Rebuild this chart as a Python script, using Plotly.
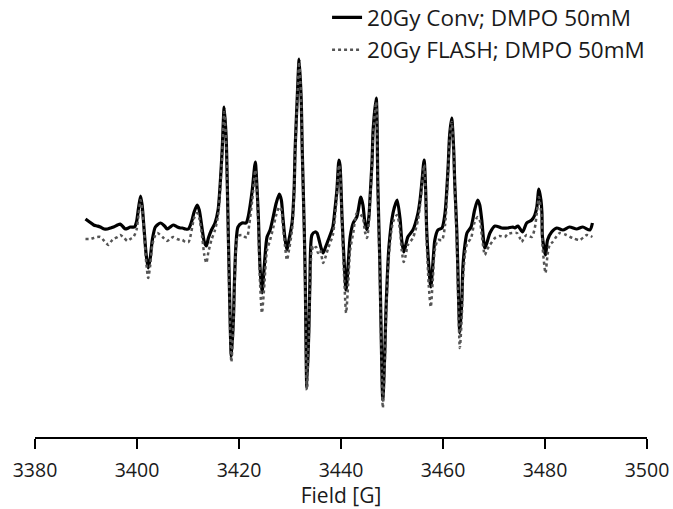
import plotly.graph_objects as go

# EPR spectra (field in G, signal in arbitrary units)
conv_field = [3389.9, 3390.7, 3391.5, 3392.2, 3392.8, 3393.6, 3394.2, 3394.8, 3395.4, 3396.2,
              3396.7, 3397.3, 3397.7, 3398.3, 3398.7, 3399.5, 3399.9, 3400.3, 3400.7, 3401.0,
              3401.4, 3401.8, 3402.2, 3402.6, 3403.0, 3403.6, 3404.6, 3405.4, 3405.9, 3406.5,
              3407.1, 3407.9, 3408.5, 3408.9, 3409.5, 3410.1, 3410.4, 3410.8, 3411.2, 3411.8,
              3412.2, 3412.8, 3413.2, 3413.6, 3414.0, 3414.6, 3415.3, 3415.9, 3416.3, 3416.7,
              3417.1, 3417.5, 3417.7, 3418.1, 3418.5, 3418.9, 3419.1, 3419.4, 3419.8, 3420.6,
              3421.4, 3421.8, 3422.2, 3422.6, 3423.2, 3423.4, 3423.8, 3424.1, 3424.5, 3424.9,
              3425.5, 3426.1, 3426.7, 3427.3, 3427.9, 3428.3, 3428.6, 3429.0, 3429.4, 3429.8,
              3430.4, 3430.8, 3431.0, 3431.4, 3431.8, 3432.2, 3432.4, 3432.8, 3433.0, 3433.3,
              3433.7, 3433.9, 3434.3, 3434.9, 3435.3, 3435.7, 3436.1, 3436.5, 3436.9, 3437.5,
              3438.4, 3438.8, 3439.2, 3439.6, 3439.8, 3440.2, 3440.6, 3441.0, 3441.4, 3441.8,
              3442.4, 3443.1, 3443.9, 3444.3, 3444.7, 3445.1, 3445.5, 3445.7, 3446.1, 3446.3,
              3446.9, 3447.1, 3447.2, 3447.6, 3447.8, 3448.2, 3448.6, 3448.8, 3449.4, 3450.2,
              3451.0, 3451.6, 3451.9, 3452.3, 3452.7, 3453.1, 3454.1, 3455.1, 3455.5, 3455.9,
              3456.3, 3456.6, 3456.8, 3457.2, 3457.6, 3458.0, 3458.4, 3459.0, 3459.8, 3460.4,
              3461.0, 3461.3, 3461.7, 3462.1, 3462.3, 3462.7, 3462.9, 3463.3, 3463.7, 3463.9,
              3464.3, 3464.7, 3465.5, 3466.2, 3466.8, 3467.2, 3467.6, 3468.2, 3468.6, 3469.2,
              3470.2, 3471.5, 3472.7, 3473.7, 3474.1, 3474.7, 3475.6, 3476.4, 3477.4, 3478.0,
              3478.4, 3478.8, 3479.2, 3479.4, 3479.5, 3480.1, 3480.5, 3481.3, 3482.3, 3483.5,
              3484.8, 3486.2, 3487.4, 3488.8, 3489.3]
conv_signal = [9, 6, 3, 2, 1, -1, -1, 0, 1, 3,
               4, 1, -1, 0, 1, 1, 6, 20, 32, 23,
               -2, -27, -40, -30, -12, 1, 5, 2, -1, 1,
               3, 1, 0, 0, -1, -1, 2, 8, 16, 23,
               18, -2, -14, -18, -10, -2, 5, 18, 43, 78,
               121, 88, 45, -55, -129, -92, -55, -17, 1, 5,
               5, 11, 23, 38, 66, 53, 11, -37, -65, -42,
               -9, -2, 11, 25, 34, 28, 11, -10, -22, -12,
               5, 38, 78, 128, 169, 128, 78, -2, -55, -159,
               -102, -55, -7, -4, -5, -12, -20, -25, -20, -12,
               1, 18, 38, 68, 63, 11, -32, -62, -37, -9,
               5, 11, 31, 23, 5, -2, 13, 31, 68, 98,
               130, 98, 48, -32, -85, -172, -122, -85, -19, 15,
               28, 8, -12, -24, -17, -9, -2, 15, 28, 48,
               68, 38, -2, -37, -59, -37, -12, -2, 0, 15,
               61, 93, 110, 78, 45, -2, -39, -105, -72, -39,
               -17, -5, 1, 18, 28, 23, 8, -20, -15, -5,
               2, 0, 0, 1, 0, 2, -4, 5, 8, 13,
               21, 39, 28, 15, -9, -27, -12, -4, 0, -2,
               1, -1, 1, -2, 5]

flash_field = [3389.9, 3390.7, 3391.5, 3392.2, 3392.8, 3393.6, 3394.4, 3395.0, 3395.4, 3396.2,
               3396.7, 3397.5, 3398.1, 3398.7, 3399.3, 3399.9, 3400.3, 3400.7, 3401.0, 3401.4,
               3401.8, 3402.2, 3402.6, 3403.0, 3403.6, 3404.0, 3405.0, 3405.9, 3406.5, 3407.1,
               3407.9, 3408.5, 3408.9, 3409.5, 3410.1, 3410.4, 3410.8, 3411.2, 3411.8, 3412.2,
               3412.8, 3413.2, 3413.6, 3414.0, 3414.6, 3415.3, 3415.9, 3416.3, 3416.7, 3417.1,
               3417.5, 3417.7, 3418.1, 3418.5, 3418.9, 3419.1, 3419.4, 3419.8, 3420.6, 3421.2,
               3421.6, 3422.0, 3422.6, 3423.2, 3423.4, 3423.8, 3424.1, 3424.5, 3424.9, 3425.5,
               3426.1, 3426.7, 3427.3, 3427.9, 3428.3, 3428.6, 3429.0, 3429.4, 3429.8, 3430.4,
               3430.8, 3431.0, 3431.4, 3431.8, 3432.2, 3432.4, 3432.8, 3433.0, 3433.3, 3433.7,
               3433.9, 3434.3, 3434.5, 3435.1, 3435.5, 3435.9, 3436.5, 3436.9, 3437.5, 3438.4,
               3438.8, 3439.2, 3439.6, 3439.8, 3440.2, 3440.6, 3441.0, 3441.4, 3441.8, 3442.4,
               3443.1, 3443.9, 3444.3, 3444.7, 3445.1, 3445.5, 3445.7, 3446.1, 3446.3, 3446.9,
               3447.1, 3447.2, 3447.6, 3447.8, 3448.2, 3448.6, 3448.8, 3449.4, 3450.2, 3451.0,
               3451.6, 3451.9, 3452.3, 3452.7, 3453.1, 3454.1, 3455.1, 3455.5, 3455.9, 3456.3,
               3456.6, 3456.8, 3457.2, 3457.6, 3458.0, 3458.4, 3459.0, 3459.8, 3460.4, 3461.0,
               3461.3, 3461.7, 3462.1, 3462.3, 3462.7, 3462.9, 3463.3, 3463.7, 3463.9, 3464.3,
               3464.7, 3465.5, 3466.2, 3466.8, 3467.2, 3467.6, 3468.2, 3468.6, 3469.2, 3470.2,
               3471.1, 3472.1, 3472.7, 3473.5, 3474.5, 3475.0, 3475.4, 3476.0, 3476.4, 3477.4,
               3478.0, 3478.4, 3478.8, 3479.2, 3479.4, 3479.5, 3480.1, 3480.5, 3480.9, 3481.5,
               3482.3, 3482.9, 3484.2, 3485.4, 3486.8, 3488.2, 3489.3]
flash_signal = [-11, -11, -10, -9, -9, -13, -17, -13, -11, -9,
                -7, -10, -13, -11, -9, -2, 13, 28, 20, -4,
                -34, -50, -37, -17, -7, -5, -9, -13, -11, -9,
                -11, -12, -12, -14, -14, -10, 0, 10, 15, 10,
                -10, -27, -35, -24, -12, -2, 13, 38, 73, 116,
                83, 40, -62, -134, -97, -62, -22, -8, -7, -9,
                -9, 3, 28, 58, 48, 3, -52, -85, -62, -22,
                -12, 0, 13, 21, 18, 3, -17, -32, -22, -2,
                33, 73, 125, 166, 125, 73, -7, -62, -162, -107,
                -62, -17, -22, -19, -25, -22, -35, -30, -20, -7,
                10, 33, 63, 58, 3, -47, -85, -57, -22, -5,
                15, 13, 10, -4, -10, 8, 28, 63, 93, 126,
                93, 43, -40, -92, -180, -132, -92, -27, 6, 13,
                -4, -22, -34, -27, -17, -10, 8, 23, 43, 63,
                30, -12, -57, -79, -52, -22, -12, -12, 3, 56,
                88, 106, 73, 40, -12, -52, -120, -87, -52, -27,
                -16, -10, 6, 11, 8, -7, -27, -22, -17, -10,
                -8, -9, -6, -5, -5, -9, -14, -9, -7, -9,
                0, 15, 31, 18, 6, -17, -45, -27, -17, -14,
                -8, -5, -7, -10, -12, -7, -9]

series_names = ["20Gy Conv; DMPO 50mM", "20Gy FLASH; DMPO 50mM"]
x_ticks = [3380, 3400, 3420, 3440, 3460, 3480, 3500]
x_title = "Field [G]"

FONT = "Open Sans"

fig = go.Figure()
fig.add_trace(go.Scatter(x=conv_field, y=conv_signal, mode="lines", name=series_names[0],
                         line=dict(color="black", width=3.2, shape="spline", smoothing=0.7)))
fig.add_trace(go.Scatter(x=flash_field, y=flash_signal, mode="lines", name=series_names[1],
                         line=dict(color="#555555", width=2.5, dash="dot", shape="spline", smoothing=0.7)))

fig.update_layout(
    width=673, height=509,
    margin=dict(l=35, r=26, t=40, b=72, autoexpand=False),
    paper_bgcolor="white", plot_bgcolor="white",
    font=dict(family=FONT, color="#1a1a1a", size=20),
    showlegend=True,
    legend=dict(x=1.005, xanchor="right", y=1.11, yanchor="top",
                font=dict(family=FONT, size=22.5, color="#1a1a1a"),
                bgcolor="rgba(0,0,0,0)", tracegroupgap=0),
    xaxis=dict(range=[3380, 3500], tickvals=x_ticks, ticktext=[str(v) for v in x_ticks],
               automargin=False,
               showgrid=False, zeroline=False, showline=True, linecolor="black", linewidth=2,
               ticks="outside", ticklen=10, tickwidth=2, tickcolor="black",
               ticklabelstandoff=5,
               tickfont=dict(family=FONT, size=19.5, color="#1a1a1a"),
               title=dict(text=x_title, font=dict(family=FONT, size=21, color="#1a1a1a"), standoff=3)),
    yaxis=dict(range=[-209, 188], visible=False, showgrid=False, zeroline=False, automargin=False),
)

fig.write_html("out.html",
               config={"displayModeBar": False},
               post_script="document.body.style.margin='0px'; document.body.style.overflow='hidden';")
